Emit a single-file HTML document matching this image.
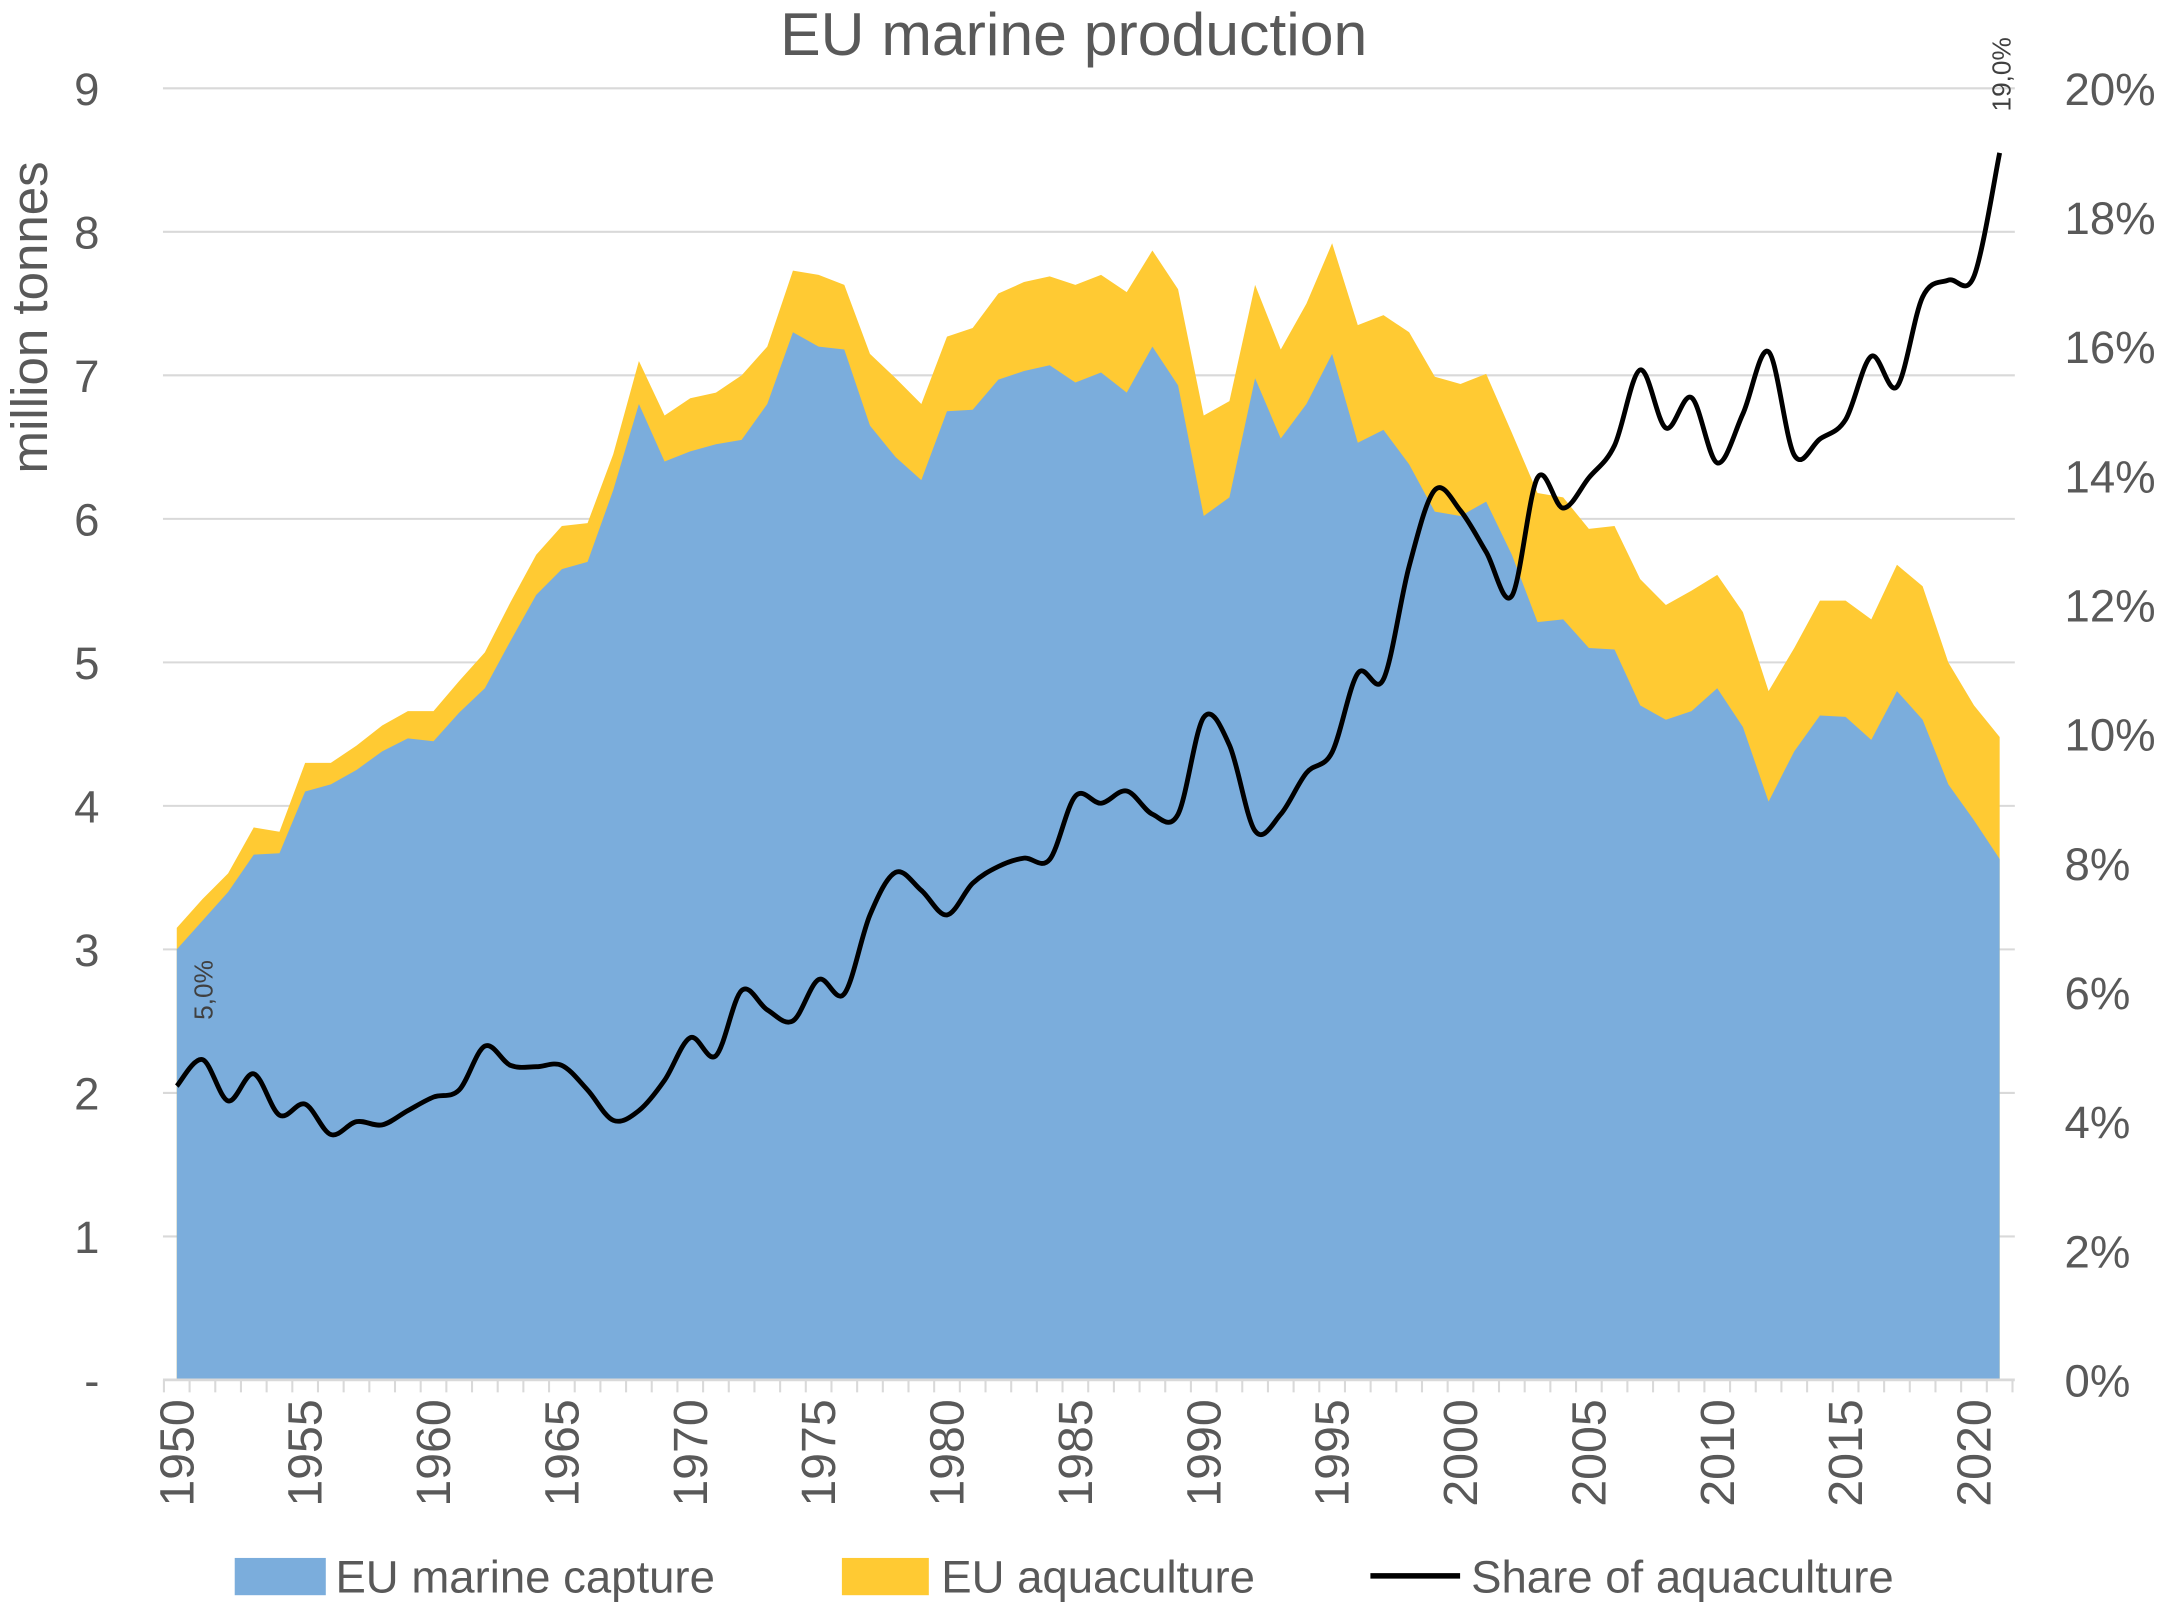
<!DOCTYPE html>
<html><head><meta charset="utf-8"><style>
html,body{margin:0;padding:0;background:#fff;}
svg{display:block;font-family:"Liberation Sans",sans-serif;}
</style></head><body>
<svg id="chart" width="2164" height="1609" viewBox="0 0 1568 1166" xmlns="http://www.w3.org/2000/svg">
<rect width="1568" height="1166" fill="#fff"/>
<text x="778" y="40" text-anchor="middle" font-size="44" fill="#595959">EU marine production</text>
<g id="grid"></g>
<g id="areas"></g>
<g id="line"></g>
<g id="axes"></g>
<text transform="translate(34,230) rotate(-90)" text-anchor="middle" font-size="37" fill="#595959">million tonnes</text>
<g>
<rect x="170" y="1129" width="66" height="27" fill="#7BADDC"/>
<text x="243" y="1154" font-size="33" fill="#595959">EU marine capture</text>
<rect x="610" y="1129" width="63" height="27" fill="#FFCA33"/>
<text x="682" y="1154" font-size="33" fill="#595959">EU aquaculture</text>
<line x1="993" y1="1142" x2="1058" y2="1142" stroke="#000" stroke-width="4"/>
<text x="1066" y="1154" font-size="33" fill="#595959">Share of aquaculture</text>
</g>
</svg>
<script>
const years = [];
for (let y = 1950; y <= 2021; y++) years.push(y);
const capture = [3.0,3.2,3.4,3.66,3.67,4.1,4.15,4.25,4.38,4.47,4.45,4.65,4.82,5.15,5.47,5.65,5.7,6.2,6.8,6.4,6.47,6.52,6.55,6.8,7.3,7.2,7.18,6.65,6.43,6.27,6.75,6.76,6.97,7.03,7.07,6.95,7.02,6.88,7.2,6.93,6.02,6.15,6.98,6.56,6.8,7.15,6.53,6.62,6.38,6.05,6.02,6.12,5.75,5.28,5.3,5.1,5.09,4.7,4.6,4.66,4.82,4.55,4.03,4.38,4.63,4.62,4.46,4.8,4.6,4.15,3.9,3.63];
const total = [3.15,3.35,3.53,3.85,3.82,4.3,4.3,4.42,4.56,4.66,4.66,4.87,5.07,5.42,5.75,5.95,5.97,6.45,7.1,6.72,6.84,6.88,7.0,7.2,7.73,7.7,7.63,7.15,6.98,6.8,7.27,7.33,7.57,7.65,7.69,7.63,7.7,7.58,7.87,7.6,6.72,6.82,7.63,7.18,7.5,7.92,7.35,7.42,7.3,6.99,6.94,7.01,6.6,6.18,6.15,5.93,5.95,5.58,5.4,5.5,5.61,5.35,4.8,5.1,5.43,5.43,5.3,5.68,5.53,5.0,4.7,4.48];
const share = [4.55,4.96,4.32,4.74,4.1,4.27,3.8,4.0,3.95,4.17,4.38,4.49,5.17,4.87,4.85,4.87,4.49,4.02,4.17,4.64,5.3,5.02,6.03,5.73,5.56,6.2,5.98,7.2,7.86,7.58,7.2,7.69,7.95,8.08,8.06,9.04,8.93,9.12,8.76,8.76,10.26,9.83,8.5,8.76,9.4,9.72,10.94,10.85,12.6,13.78,13.46,12.82,12.14,13.97,13.5,13.97,14.47,15.64,14.74,15.21,14.2,14.96,15.92,14.32,14.57,14.87,15.85,15.38,16.77,17.03,17.09,19.0];
const leftTicks = ["-","1","2","3","4","5","6","7","8","9"];
const rightTicks = ["0%","2%","4%","6%","8%","10%","12%","14%","16%","18%","20%"];
const yearLabels = [1950,1955,1960,1965,1970,1975,1980,1985,1990,1995,2000,2005,2010,2015,2020];

const NS = "http://www.w3.org/2000/svg";
const X0 = 128, X1 = 1449, Y0 = 1000, Y9 = 64;
const xs = yr => X0 + (yr - 1950) * (X1 - X0) / 71;
const ys = v => Y0 - v * (Y0 - Y9) / 9;
const yp = p => Y0 - p * (Y0 - Y9) / 20;
function mk(tag, attrs, parent) { const e = document.createElementNS(NS, tag); for (const k in attrs) e.setAttribute(k, attrs[k]); parent.appendChild(e); return e; }

const grid = document.getElementById('grid');
for (let i = 1; i <= 9; i++) {
  const l = mk('line', {x1: 118, x2: 1460, y1: ys(i), y2: ys(i), stroke: '#d9d9d9', 'stroke-width': 1.5}, grid);
  
  
}
const areas = document.getElementById('areas');
let dT = 'M' + xs(1950) + ',' + ys(0);
years.forEach((y, i) => dT += ' L' + xs(y) + ',' + ys(total[i]));
dT += ' L' + xs(2021) + ',' + ys(0) + ' Z';
const aT = mk('path', {d: dT, fill: '#FFCA33'}, areas);


let dC = 'M' + xs(1950) + ',' + ys(0);
years.forEach((y, i) => dC += ' L' + xs(y) + ',' + ys(capture[i]));
dC += ' L' + xs(2021) + ',' + ys(0) + ' Z';
const aC = mk('path', {d: dC, fill: '#7BADDC'}, areas);



const pts = years.map((y, i) => [xs(y), yp(share[i])]);
let dL = 'M' + pts[0][0] + ',' + pts[0][1];
for (let i = 0; i < pts.length - 1; i++) {
  const p0 = pts[Math.max(0, i - 1)], p1 = pts[i], p2 = pts[i + 1], p3 = pts[Math.min(pts.length - 1, i + 2)];
  const t = 6;
  dL += ' C' + (p1[0] + (p2[0] - p0[0]) / t) + ',' + (p1[1] + (p2[1] - p0[1]) / t) + ' ' + (p2[0] - (p3[0] - p1[0]) / t) + ',' + (p2[1] - (p3[1] - p1[1]) / t) + ' ' + p2[0] + ',' + p2[1];
}
const lineG = document.getElementById('line');
const ln = mk('path', {d: dL, fill: 'none', stroke: '#000', 'stroke-width': 3.5, 'stroke-linejoin': 'round'}, lineG);


const l1 = mk('text', {transform: 'translate(' + (xs(1950) + 26) + ',' + (yp(share[0]) - 48) + ') rotate(-90)', 'font-size': 19, fill: '#404040'}, lineG);
l1.textContent = '5,0%';


const l2 = mk('text', {transform: 'translate(' + (xs(2021) + 8) + ',' + (yp(share[71]) - 30) + ') rotate(-90)', 'font-size': 19, fill: '#404040'}, lineG);
l2.textContent = share[71].toFixed(1).replace('.', ',') + '%';



const axes = document.getElementById('axes');
const ax = mk('line', {x1: 118, x2: 1460, y1: Y0, y2: Y0, stroke: '#d9d9d9', 'stroke-width': 2}, axes);


for (let y = 1950; y <= 2022; y++) {
  const tx = X0 - 9.3 + (y - 1950) * (X1 - X0) / 71;
  const t = mk('line', {x1: tx, x2: tx, y1: Y0, y2: Y0 + 9, stroke: '#d9d9d9', 'stroke-width': 1.5}, axes);
  
  
}
leftTicks.forEach((s, i) => {
  const t = mk('text', {x: 72, y: ys(i) + 12, 'text-anchor': 'end', 'font-size': 33, fill: '#595959'}, axes);
  t.textContent = s;
  
  
});
rightTicks.forEach((s, i) => {
  const t = mk('text', {x: 1496, y: yp(i * 2) + 12, 'font-size': 33, fill: '#595959'}, axes);
  t.textContent = s;
  
  
});
yearLabels.forEach(y => {
  const t = mk('text', {transform: 'translate(' + (xs(y) + 12) + ',1014) rotate(-90)', 'text-anchor': 'end', 'font-size': 35, fill: '#595959'}, axes);
  t.textContent = y;
  
  
});
</script>
</body></html>
